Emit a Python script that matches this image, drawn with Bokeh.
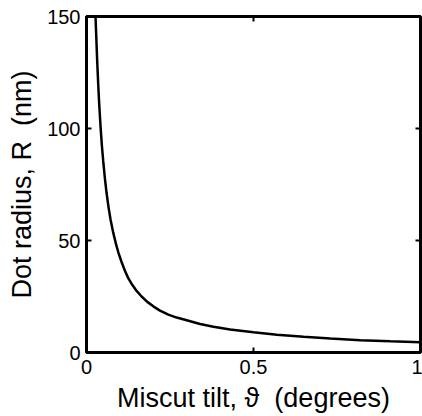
from bokeh.plotting import figure
from bokeh.models import Range1d, LinearAxis, FixedTicker
from bokeh.embed import file_html
from bokeh.resources import INLINE

# Data
tilt_deg = [0.027, 0.029, 0.032, 0.035, 0.038, 0.042, 0.046, 0.050, 0.055, 0.060,
            0.066, 0.072, 0.080, 0.088, 0.096, 0.105, 0.115, 0.125, 0.137, 0.150,
            0.165, 0.182, 0.20, 0.22, 0.245, 0.27, 0.30, 0.34, 0.38, 0.43,
            0.5, 0.57, 0.65, 0.73, 0.82, 0.91, 1.0]
radius_nm = [150, 142, 130, 120, 111, 101, 92.5, 85.5, 77.8, 71.3,
             64.8, 59.4, 53.5, 48.6, 44.4, 40.4, 36.5, 33.2, 30.2, 27.5,
             25.0, 22.6, 20.6, 18.7, 16.9, 15.6, 14.4, 12.7, 11.5, 10.3,
             9.0, 7.9, 7.0, 6.2, 5.5, 5.0, 4.6]
x_ticks = [0, 0.5, 1]
y_ticks = [0, 50, 100, 150]
x_tick_labels = {0: "0", 0.5: "0.5", 1: "1"}
y_tick_labels = {0: "0", 50: "50", 100: "100", 150: "150"}
x_title = "Miscut tilt, \u03d1 \u00a0(degrees)"
y_title = "Dot radius, R \u00a0(nm)"

FONT = "Liberation Sans"

p = figure(width=422, height=416, output_backend="svg", toolbar_location=None,
           x_range=Range1d(0, 1), y_range=Range1d(0, 150),
           x_axis_type=None, y_axis_type=None,
           min_border_left=86, min_border_right=2, min_border_top=16, min_border_bottom=64)
p.grid.visible = False
p.outline_line_color = "black"
p.outline_line_width = 3
p.background_fill_color = "white"
p.border_fill_color = "white"

p.line(tilt_deg, radius_nm, line_color="black", line_width=2.5)

def style_axis(ax, ticks, labels, show_labels=True):
    ax.ticker = FixedTicker(ticks=ticks)
    ax.major_label_overrides = labels
    ax.axis_line_color = None
    ax.major_tick_in = 5
    ax.major_tick_out = 0
    ax.major_tick_line_width = 2
    ax.minor_tick_line_color = None
    ax.major_label_text_font = FONT
    ax.major_label_text_font_size = "20px"
    ax.major_label_text_color = "black"
    ax.major_label_standoff = 7
    ax.axis_label_text_font = FONT
    ax.axis_label_text_font_size = "27px"
    ax.axis_label_text_font_style = "normal"
    ax.axis_label_text_color = "black"
    if not show_labels:
        ax.major_label_text_font_size = "0px"
        ax.major_label_text_color = None

bottom = LinearAxis(axis_label=x_title)
style_axis(bottom, x_ticks, x_tick_labels)
bottom.axis_label_standoff = 6
p.add_layout(bottom, "below")
left = LinearAxis(axis_label=y_title)
style_axis(left, y_ticks, y_tick_labels)
left.major_label_standoff = 6
left.axis_label_standoff = 7
p.add_layout(left, "left")
top = LinearAxis()
style_axis(top, x_ticks, x_tick_labels, show_labels=False)
p.add_layout(top, "above")
right = LinearAxis()
style_axis(right, y_ticks, y_tick_labels, show_labels=False)
p.add_layout(right, "right")

open("out.html", "w").write(file_html(p, INLINE))
